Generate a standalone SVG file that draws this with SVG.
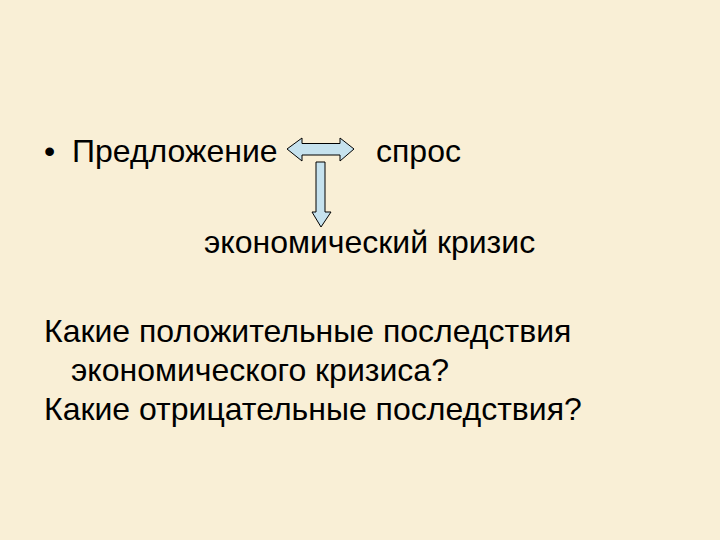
<svg xmlns="http://www.w3.org/2000/svg" width="720" height="540" viewBox="0 0 720 540">
<style>
text{font-family:"Liberation Sans",Arial,sans-serif;font-size:32px;fill:#000}
.arrow{fill:#c6e2ee;stroke:#000;stroke-width:1}
</style>
<rect width="720" height="540" fill="#f9efd6"/>
<g id="predlozhenie"><text x="44" y="162">•</text><text x="72" y="162">Предложение</text></g>
<g id="spros"><text x="376" y="162">спрос</text></g>
<g id="krizis"><text x="204" y="253">экономический кризис</text></g>
<g id="connectors">
<path class="arrow" d="M287,149 L302,138 L302,143.5 L340,143.5 L340,138 L354,149 L340,161 L340,155 L302,155 L302,161 Z"/>
<path class="arrow" d="M316,162 L325,162 L325,212 L331,212 L321,227 L312,212 L316,212 Z"/>
</g>
<g id="questions">
<text x="44" y="342">Какие положительные последствия</text>
<text x="71" y="381">экономического кризиса?</text>
<text x="44" y="420">Какие отрицательные последствия?</text>
</g>
</svg>
